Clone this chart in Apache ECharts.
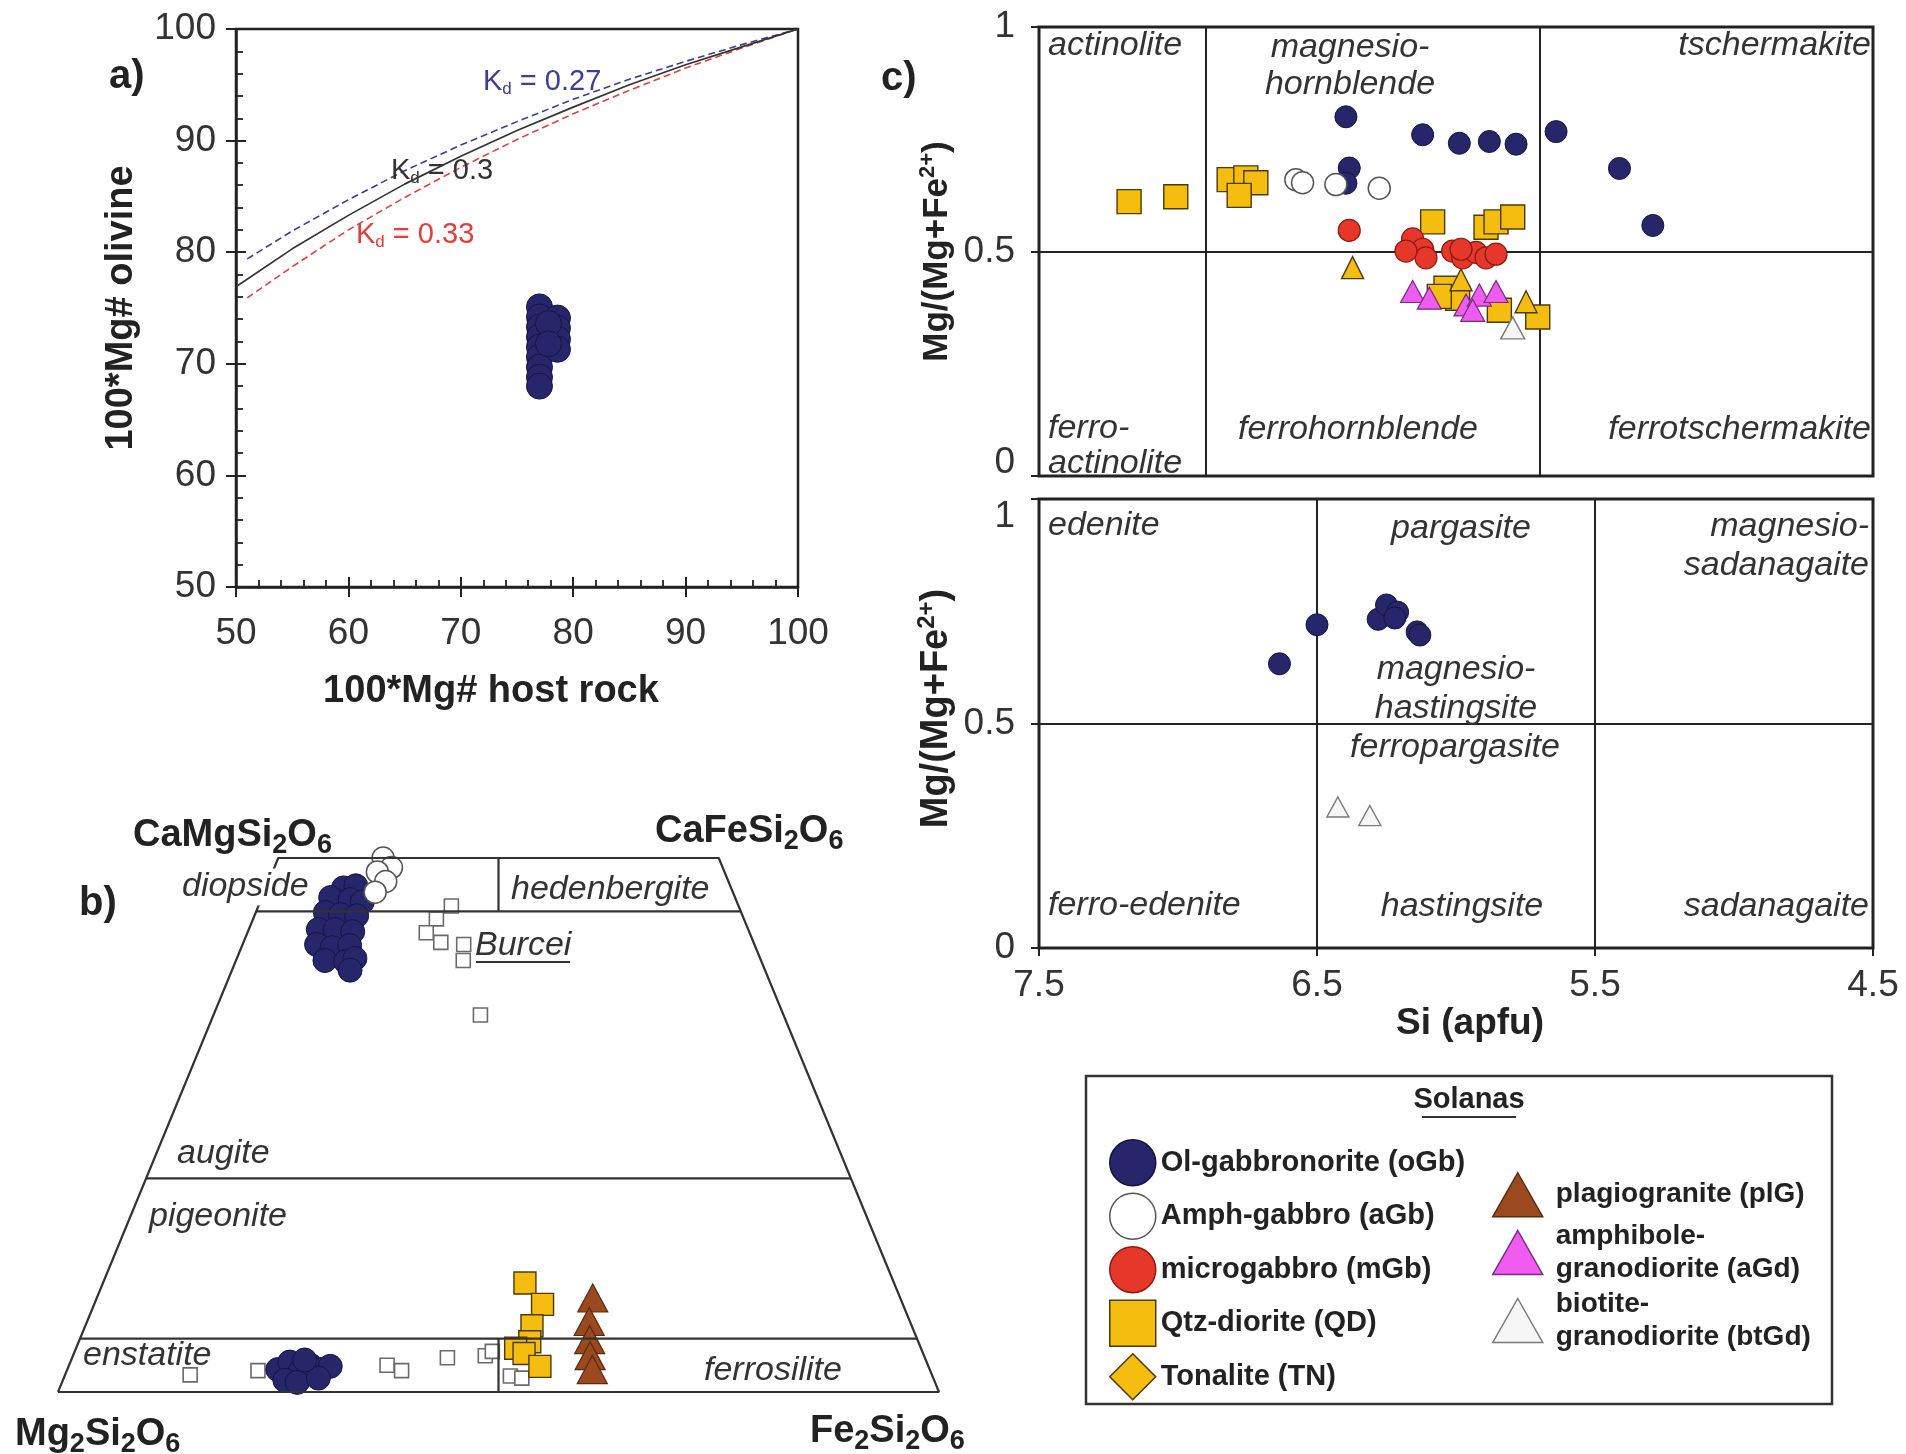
<!DOCTYPE html>
<html>
<head>
<meta charset="utf-8">
<title>Solanas – olivine, pyroxene and amphibole compositions</title>
<script src="https://cdn.jsdelivr.net/npm/echarts@6/dist/echarts.min.js"></script>
<style>
  html, body { margin: 0; padding: 0; background: #ffffff; }
  #chart { width: 1906px; height: 1454px; }
</style>
</head>
<body>
<div id="chart"></div>
<script>
// ---------------- Panel a: olivine Mg# vs host-rock Mg# ----------------
const hostMgTicks = [50, 60, 70, 80, 90, 100];
const kd030Host = [50, 55, 60, 65, 70, 75, 80, 85, 90, 95, 100];
const kd030Ol   = [76.9, 80.3, 83.3, 86.1, 88.6, 90.9, 93.0, 95.0, 96.8, 98.4, 100];
const kd027Host = [51, 55, 60, 65, 70, 75, 80, 85, 90, 95, 100];
const kd027Ol   = [79.4, 81.9, 84.7, 87.3, 89.6, 91.7, 93.7, 95.5, 97.1, 98.6, 100];
const kd033Host = [51, 55, 60, 65, 70, 75, 80, 85, 90, 95, 100];
const kd033Ol   = [75.9, 78.7, 82.0, 84.9, 87.6, 90.1, 92.4, 94.5, 96.5, 98.3, 100];
const oGbOlivine = [
  [77.0, 75.1], [77.0, 74.2], [77.0, 73.3], [77.0, 72.4], [77.0, 71.5],
  [77.0, 70.6], [77.0, 69.7], [77.0, 68.8], [77.0, 68.0],
  [78.6, 74.1], [78.6, 73.2], [78.6, 72.2], [78.6, 71.3],
  [77.8, 73.6], [77.8, 71.8]
];

// ---------------- Panel b: pyroxene quadrilateral, points as [Fs %, Wo %] ----------------
const pxOutline = [[0, 0], [100, 0], [50, 50], [0, 50], [0, 0]];
const pxWo45 = [[0, 45], [55, 45]];
const pxWo20 = [[0, 20], [80, 20]];
const pxWo5  = [[0, 5], [95, 5]];
const pxDiHd = [[25, 50], [27.5, 45]];
const pxEnFs = [[50, 0], [47.5, 5]];
const oGbCpx = [
  [8.8, 47.2], [10.1, 47.4], [7.8, 46.3], [10.1, 46.1], [11.6, 45.9], [7.9, 44.9],
  [9.7, 44.7], [11.6, 44.6], [7.9, 43.3], [9.8, 43.3], [11.9, 43.1], [8.4, 41.9],
  [10.3, 41.6], [12.2, 41.8], [10.1, 40.4], [12.5, 40.3], [13.4, 40.6], [13.4, 39.5]
];
const aGbCpx = [[11.9, 50.0], [13.3, 49.1], [11.9, 48.7], [13.3, 47.8], [12.6, 46.8]];
const oGbOpx = [
  [23.9, 2.1], [24.9, 2.8], [26.5, 1.9], [27.4, 2.5], [28.7, 2.1], [29.7, 2.4],
  [25.2, 1.1], [26.7, 0.9], [28.9, 1.3], [26.5, 3.0]
];
const burceiPx = [
  [21.9, 45.5], [20.8, 44.3], [20.3, 43.0], [22.4, 42.1], [25.1, 41.9], [25.8, 40.4], [30.3, 35.3],
  [14.2, 1.6], [21.7, 2.0], [36.1, 2.5], [38.0, 2.0], [42.6, 3.2], [46.8, 3.4], [47.4, 3.8],
  [50.6, 1.5], [52.0, 1.3]
];
const qdPx  = [[47.9, 10.2], [50.9, 8.2], [50.7, 6.2], [51.2, 4.7], [49.9, 4.1], [51.1, 3.6], [53.5, 2.4]];
const plgPx = [[56.3, 8.8], [57.0, 6.6], [57.9, 4.9], [58.7, 3.4], [59.6, 2.1]];

// ---------------- Panel c: amphiboles, points as [Si apfu, Mg/(Mg+Fe2+)] ----------------
const siTicks = [7.5, 6.5, 5.5, 4.5];
const mgTicks = [0, 0.5, 1];
// upper diagram (CaB >= 1.5; (Na+K)A < 0.5)
const oGbAmphLow = [
  [7.08, 0.800], [6.85, 0.760], [6.74, 0.741], [6.65, 0.745], [6.57, 0.739],
  [6.45, 0.767], [6.26, 0.685], [6.16, 0.558], [7.07, 0.686], [7.08, 0.652]
];
const aGbAmph = [[7.23, 0.660], [7.21, 0.653], [7.11, 0.649], [6.98, 0.641]];
const mGbAmph = [
  [7.07, 0.547], [6.88, 0.528], [6.85, 0.505], [6.84, 0.486], [6.90, 0.501], [6.76, 0.501],
  [6.73, 0.486], [6.69, 0.498], [6.66, 0.486], [6.63, 0.494], [6.735, 0.505]
];
const qdAmph = [
  [7.73, 0.611], [7.59, 0.622], [7.43, 0.660], [7.38, 0.664], [7.35, 0.653], [7.40, 0.625],
  [6.82, 0.566], [6.66, 0.554], [6.63, 0.566], [6.58, 0.577],
  [6.78, 0.418], [6.745, 0.396], [6.62, 0.369], [6.505, 0.354], [6.80, 0.400]
];
const tnAmph = [[7.06, 0.464], [6.735, 0.437], [6.54, 0.388]];
const aGdAmph = [[6.88, 0.411], [6.83, 0.396], [6.72, 0.381], [6.68, 0.403], [6.63, 0.411], [6.70, 0.369]];
const btGdAmphLow = [[6.58, 0.330]];
// lower diagram (CaB >= 1.5; (Na+K)A >= 0.5)
const oGbAmphHigh = [
  [6.635, 0.633], [6.50, 0.720], [6.28, 0.732], [6.25, 0.764], [6.21, 0.748],
  [6.22, 0.735], [6.14, 0.704], [6.13, 0.697]
];
const btGdAmphHigh = [[6.425, 0.314], [6.31, 0.295]];

// ---------------- styling ----------------
const FONT = "'Liberation Sans', Arial, Helvetica, sans-serif";
const INK = '#222';
const NAMES = {
  oGb: 'Ol-gabbronorite (oGb)',
  aGb: 'Amph-gabbro (aGb)',
  mGb: 'microgabbro (mGb)',
  QD: 'Qtz-diorite (QD)',
  TN: 'Tonalite (TN)',
  plG: 'plagiogranite (plG)',
  aGd: 'amphibole-\ngranodiorite (aGd)',
  btGd: 'biotite-\ngranodiorite (btGd)'
};
const LOOK = {
  oGb:  { symbol: 'circle',   color: '#27266b', borderColor: '#15143f', borderWidth: 1 },
  aGb:  { symbol: 'circle',   color: '#ffffff', borderColor: '#555555', borderWidth: 1.5 },
  mGb:  { symbol: 'circle',   color: '#e6372b', borderColor: '#8a1c12', borderWidth: 1.2 },
  QD:   { symbol: 'rect',     color: '#f5bd10', borderColor: '#4a3b0a', borderWidth: 1.4 },
  TN:   { symbol: 'triangle', color: '#f5bd10', borderColor: '#4a3b0a', borderWidth: 1.4 },
  plG:  { symbol: 'triangle', color: '#9a4a1e', borderColor: '#5a2a10', borderWidth: 1.2 },
  aGd:  { symbol: 'triangle', color: '#ee5cf0', borderColor: '#7a2a80', borderWidth: 1.2 },
  btGd: { symbol: 'triangle', color: '#f6f6f6', borderColor: '#7a7a7a', borderWidth: 1.4 },
  burcei: { symbol: 'rect',   color: '#ffffff', borderColor: '#6a6a6a', borderWidth: 1.6 }
};

// ternary (Fs, Wo) -> quadrilateral plane
const toQuad = pts => pts.map(([fs, wo]) => [fs + wo / 2, wo]);

function scatter(key, data, axis, size) {
  const s = LOOK[key];
  return {
    type: 'scatter', name: NAMES[key] || key, data,
    xAxisIndex: axis, yAxisIndex: axis,
    symbol: s.symbol, symbolSize: size,
    itemStyle: { color: s.color, borderColor: s.borderColor, borderWidth: s.borderWidth, opacity: 1 },
    silent: true, animation: false
  };
}
function line(data, axis, color, width, type) {
  return {
    type: 'line', data, xAxisIndex: axis, yAxisIndex: axis,
    symbol: 'none', silent: true, animation: false,
    lineStyle: { color, width, type: type || 'solid' }
  };
}
const zipXY = (xs, ys) => xs.map((x, i) => [x, ys[i]]);

// ---------------- axes ----------------
const tickLine = { color: INK, width: 2 };
const aAxisCommon = {
  gridIndex: 0, type: 'value', min: 50, max: 100, interval: 10,
  splitLine: { show: false }
};
const cMgLabel = (shift) => ({
  fontSize: 37, color: '#333', fontFamily: FONT, margin: 24,
  formatter: v => (v === shift.value ? '{s|' + v + '}' : '{n|' + v + '}'),
  rich: {
    n: { fontSize: 37, color: '#333', fontFamily: FONT },
    s: { fontSize: 37, color: '#333', fontFamily: FONT, padding: shift.padding }
  }
});
const mgName = '{b|Mg/(Mg+Fe}{p|2+}{b|)}';
const mgNameStyle = (size, shiftUp) => ({
  padding: [0, 0, 0, shiftUp],
  rich: {
    b: { fontSize: size, fontWeight: 'bold', color: INK, fontFamily: FONT },
    p: { fontSize: Math.round(size * 0.63), fontWeight: 'bold', color: INK, fontFamily: FONT, padding: [0, 0, Math.round(size * 0.5), 0] }
  }
});

const xAxis = [
  Object.assign({}, aAxisCommon, {
    position: 'bottom',
    axisLine: { show: true, onZero: false, lineStyle: { color: INK, width: 2.5 } },
    axisTick: { show: true, inside: true, length: 10, lineStyle: tickLine },
    minorTick: { show: true, splitNumber: 5, length: 7, lineStyle: { color: INK, width: 1.8 } },
    axisLabel: { fontSize: 37, color: '#333', fontFamily: FONT, margin: 28 },
    name: '100*Mg# host rock', nameLocation: 'middle', nameGap: 86,
    nameTextStyle: { fontSize: 38, fontWeight: 'bold', color: INK, fontFamily: FONT, padding: [0, 52, 0, 0] }
  }),
  Object.assign({}, aAxisCommon, {
    position: 'bottom',
    axisLine: { show: false },
    axisTick: { show: true, inside: false, length: 10, lineStyle: tickLine },
    axisLabel: { show: false }
  }),
  { gridIndex: 1, type: 'value', min: 0, max: 100, show: false },
  {
    gridIndex: 2, type: 'value', min: 5.5, max: 8, interval: 1, inverse: true,
    axisLine: { show: false }, axisTick: { show: false }, axisLabel: { show: false },
    splitLine: { show: true, lineStyle: { color: INK, width: 2 } }
  },
  {
    gridIndex: 3, type: 'value', min: 4.5, max: 7.5, interval: 1, inverse: true,
    axisLine: { show: false },
    axisTick: { show: true, length: 8, lineStyle: tickLine },
    axisLabel: { fontSize: 37, color: '#333', fontFamily: FONT, margin: 19 },
    splitLine: { show: true, lineStyle: { color: INK, width: 2 } },
    name: 'Si (apfu)', nameLocation: 'middle', nameGap: 50,
    nameTextStyle: { fontSize: 37, fontWeight: 'bold', color: INK, fontFamily: FONT, padding: [0, 0, 0, 28] }
  }
];

const yAxis = [
  Object.assign({}, aAxisCommon, {
    position: 'left',
    axisLine: { show: true, onZero: false, lineStyle: { color: INK, width: 2.5 } },
    axisTick: { show: true, inside: true, length: 10, lineStyle: tickLine },
    minorTick: { show: true, splitNumber: 5, length: 7, lineStyle: { color: INK, width: 1.8 } },
    axisLabel: { fontSize: 37, color: '#333', fontFamily: FONT, margin: 20 },
    name: '100*Mg# olivine', nameLocation: 'middle', nameGap: 95,
    nameTextStyle: { fontSize: 38, fontWeight: 'bold', color: INK, fontFamily: FONT }
  }),
  Object.assign({}, aAxisCommon, {
    position: 'left',
    axisLine: { show: false },
    axisTick: { show: true, inside: false, length: 10, lineStyle: tickLine },
    axisLabel: { show: false }
  }),
  { gridIndex: 1, type: 'value', min: 0, max: 50, show: false },
  {
    gridIndex: 2, type: 'value', min: 0, max: 1, interval: 0.5,
    axisLine: { show: false },
    axisTick: { show: true, length: 8, lineStyle: tickLine },
    axisLabel: cMgLabel({ value: 0, padding: [0, 0, 26, 0] }),
    splitLine: { show: true, lineStyle: { color: INK, width: 2 } },
    name: mgName, nameLocation: 'middle', nameGap: 82, nameTextStyle: mgNameStyle(35, 0)
  },
  {
    gridIndex: 3, type: 'value', min: 0, max: 1, interval: 0.5,
    axisLine: { show: false },
    axisTick: { show: true, length: 8, lineStyle: tickLine },
    axisLabel: cMgLabel({ value: 1, padding: [36, 0, 0, 0] }),
    splitLine: { show: true, lineStyle: { color: INK, width: 2 } },
    name: mgName, nameLocation: 'middle', nameGap: 81, nameTextStyle: mgNameStyle(38, 30)
  }
];

// ---------------- series ----------------
const series = [
  // a
  line(zipXY(kd027Host, kd027Ol), 0, '#3d3d96', 1.6, [7, 4]),
  line(zipXY(kd033Host, kd033Ol), 0, '#e0403c', 1.6, [7, 4]),
  line(zipXY(kd030Host, kd030Ol), 0, '#333333', 1.7),
  scatter('oGb', oGbOlivine, 0, 26),
  // b – quadrilateral frame
  line(toQuad(pxOutline), 2, '#333', 2.2),
  line(toQuad(pxWo45), 2, '#333', 2.2),
  line(toQuad(pxWo20), 2, '#333', 2.2),
  line(toQuad(pxWo5), 2, '#333', 2.2),
  line(toQuad(pxDiHd), 2, '#333', 2.2),
  line(toQuad(pxEnFs), 2, '#333', 2.2),
  scatter('burcei', toQuad(burceiPx), 2, 14),
  scatter('oGb', toQuad(oGbCpx), 2, 24),
  scatter('aGb', toQuad(aGbCpx), 2, 22),
  scatter('oGb', toQuad(oGbOpx), 2, 24),
  scatter('QD', toQuad(qdPx), 2, 22),
  scatter('plG', toQuad(plgPx), 2, [30, 28]),
  // c – upper
  scatter('oGb', oGbAmphLow, 3, 22),
  scatter('aGb', aGbAmph, 3, 22),
  scatter('QD', qdAmph, 3, 24),
  scatter('mGb', mGbAmph, 3, 22),
  scatter('aGd', aGdAmph, 3, [24, 22]),
  scatter('TN', tnAmph, 3, [22, 22]),
  scatter('btGd', btGdAmphLow, 3, [24, 22]),
  // c – lower
  scatter('oGb', oGbAmphHigh, 4, 22),
  scatter('btGd', btGdAmphHigh, 4, [22, 20])
];

// ---------------- text annotations ----------------
function text(str, x, y, o) {
  const st = Object.assign({
    text: str, font: 'italic 34px ' + FONT, fill: '#333',
    align: 'left', textAlign: 'left', verticalAlign: 'middle', textVerticalAlign: 'middle'
  }, o || {});
  if (o && o.align) st.textAlign = o.align;
  return { type: 'text', x, y, z: 50, silent: true, style: st };
}
const it = (str, x, y, align, extra) => text(str, x, y, Object.assign({ align: align || 'left', lineHeight: 37 }, extra || {}));
const bold = (sz) => 'bold ' + sz + 'px ' + FONT;
const formula = (parts) => parts.map(p => (p.sub ? '{s|' + p.t + '}' : '{m|' + p.t + '}')).join('');
const formulaRich = {
  m: { font: bold(38), fill: INK },
  s: { font: bold(27), fill: INK, padding: [19, 0, 0, 0] }
};
const kdRich = (col) => ({
  k: { font: '29px ' + FONT, fill: col },
  d: { font: '17px ' + FONT, fill: col, padding: [15, 0, 0, 0] }
});
const topAligned = { rich: formulaRich, verticalAlign: 'top', textVerticalAlign: 'top' };

const graphic = [
  // panel letters
  text('a)', 109, 77, { font: bold(40), fill: INK }),
  text('b)', 79, 904, { font: bold(40), fill: INK }),
  text('c)', 881, 79, { font: bold(40), fill: INK }),
  // a: Kd labels
  text('{k|K}{d|d}{k| = 0.27}', 483, 82, { rich: kdRich('#3d3d96') }),
  text('{k|K}{d|d}{k| = 0.3}', 391, 171, { rich: kdRich('#333333') }),
  text('{k|K}{d|d}{k| = 0.33}', 356, 235, { rich: kdRich('#e0403c') }),
  // b: end-member labels
  text(formula([{ t: 'CaMgSi' }, { t: '2', sub: 1 }, { t: 'O' }, { t: '6', sub: 1 }]), 133, 813, topAligned),
  text(formula([{ t: 'CaFeSi' }, { t: '2', sub: 1 }, { t: 'O' }, { t: '6', sub: 1 }]), 655, 809, topAligned),
  text(formula([{ t: 'Mg' }, { t: '2', sub: 1 }, { t: 'Si' }, { t: '2', sub: 1 }, { t: 'O' }, { t: '6', sub: 1 }]), 15, 1412, topAligned),
  text(formula([{ t: 'Fe' }, { t: '2', sub: 1 }, { t: 'Si' }, { t: '2', sub: 1 }, { t: 'O' }, { t: '6', sub: 1 }]), 810, 1409, topAligned),
  // b: field names
  it('diopside', 182, 887, 'left', { backgroundColor: '#ffffff', padding: [0, 2, 0, 0] }),
  it('hedenbergite', 511, 890),
  it('Burcei', 475, 946),
  it('augite', 177, 1154),
  it('pigeonite', 149, 1217),
  it('enstatite', 83, 1356),
  it('ferrosilite', 704, 1371),
  { type: 'line', z: 50, silent: true, shape: { x1: 476, y1: 962, x2: 570, y2: 962 }, style: { stroke: '#333', lineWidth: 2 } },
  // c upper: field names
  it('actinolite', 1048, 46),
  it('magnesio-\nhornblende', 1350, 66, 'center'),
  it('tschermakite', 1871, 46, 'right'),
  it('ferro-\nactinolite', 1048, 446, 'left', { lineHeight: 35 }),
  it('ferrohornblende', 1358, 430, 'center'),
  it('ferrotschermakite', 1871, 430, 'right'),
  // c lower: field names
  it('edenite', 1048, 526),
  it('pargasite', 1461, 529, 'center'),
  it('magnesio-\nsadanagaite', 1869, 546, 'right', { lineHeight: 39 }),
  it('magnesio-\nhastingsite', 1456, 689, 'center', { lineHeight: 39 }),
  it('ferropargasite', 1455, 748, 'center'),
  it('ferro-edenite', 1048, 906),
  it('hastingsite', 1462, 907, 'center'),
  it('sadanagaite', 1869, 907, 'right'),
  // legend frame and heading
  { type: 'rect', z: 1, silent: true, shape: { x: 1086, y: 1076, width: 746, height: 328 }, style: { fill: 'none', stroke: '#333', lineWidth: 2.5 } },
  text('Solanas', 1469, 1100, { font: bold(29), fill: INK, align: 'center' }),
  { type: 'line', z: 50, silent: true, shape: { x1: 1422, y1: 1117, x2: 1516, y2: 1117 }, style: { stroke: '#333', lineWidth: 2 } }
];

const legendText = { fontSize: 28, fontWeight: 'bold', color: INK, fontFamily: FONT, lineHeight: 33 };
const legend = [
  {
    orient: 'vertical', left: 1104, top: 1134, itemWidth: 46, itemHeight: 46, itemGap: 6,
    selectedMode: false, textStyle: Object.assign({}, legendText, { fontSize: 29 }),
    itemStyle: { borderWidth: 1.5 },
    data: [
      { name: NAMES.oGb }, { name: NAMES.aGb }, { name: NAMES.mGb },
      { name: NAMES.QD }, { name: NAMES.TN, icon: 'diamond' }
    ]
  },
  {
    orient: 'vertical', left: 1487, top: 1167, itemWidth: 50, itemHeight: 44, itemGap: 2,
    selectedMode: false, textStyle: Object.assign({}, legendText, { padding: [0, 0, 0, 8] }),
    itemStyle: { borderWidth: 1.5 },
    data: [{ name: NAMES.plG }, { name: NAMES.aGd }, { name: NAMES.btGd }]
  }
];

const chart = echarts.init(document.getElementById('chart'), null, { renderer: 'canvas' });
chart.setOption({
  backgroundColor: '#ffffff',
  animation: false,
  textStyle: { fontFamily: FONT },
  grid: [
    { left: 236, top: 29, width: 562, height: 558, show: true, borderColor: INK, borderWidth: 2.5, backgroundColor: 'transparent' },
    { left: 58, top: 858, width: 881, height: 534, show: false },
    { left: 1039, top: 27, width: 834, height: 449, show: true, borderColor: INK, borderWidth: 3, backgroundColor: 'transparent' },
    { left: 1039, top: 499, width: 834, height: 449, show: true, borderColor: INK, borderWidth: 3, backgroundColor: 'transparent' }
  ],
  xAxis, yAxis, series, legend, graphic
});
</script>
</body>
</html>
